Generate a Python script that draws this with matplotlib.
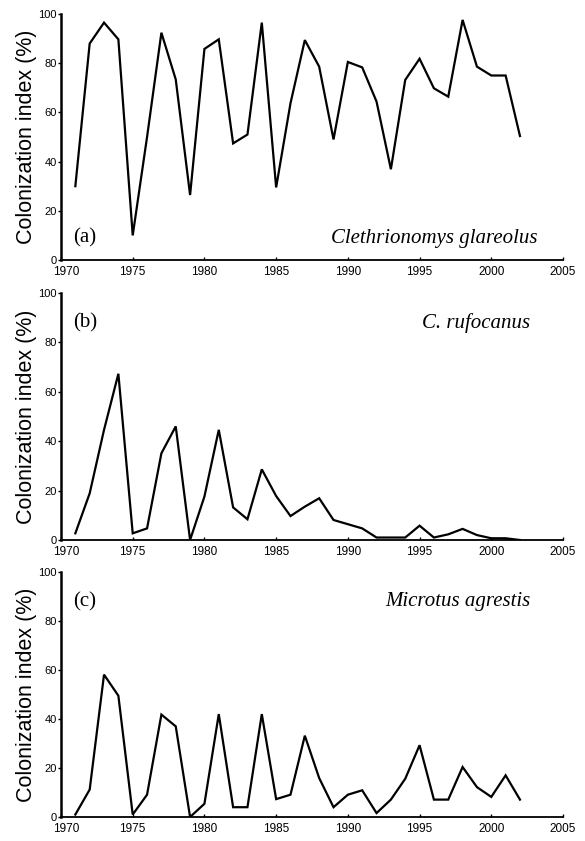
import matplotlib
matplotlib.use("Agg")
import matplotlib.pyplot as plt
import matplotlib.transforms as mtransforms

years = list(range(1971, 2003))

# colonization index (%) per species
glareolus = [30, 88, 96.5, 89.7, 10, 50, 92.4, 73.4, 26.4, 85.8, 89.7, 47.4,
             51, 96.5, 29.5, 63.7, 89.4, 78.6, 49, 80.5, 78.3, 64.4, 36.9, 73.2,
             81.8, 69.8, 66.4, 97.6, 78.6, 75, 75, 50.4]
rufocanus = [2.7, 18.9, 44.6, 67.3, 2.7, 4.7, 35.1, 46, 0, 17.6, 44.6, 13.2,
             8.4, 28.6, 17.8, 9.7, 13.5, 16.9, 8.1, 6.4, 4.7, 1, 1, 1,
             5.8, 1, 2.3, 4.5, 2, 0.7, 0.7, 0]
agrestis = [1, 11.2, 58.1, 49.5, 1, 9.1, 41.8, 37, 0, 5.4, 42, 4,
            4, 42, 7.3, 9.1, 33.2, 15.9, 4, 9.1, 10.9, 1.6, 7.1, 15.6,
            29.3, 7.1, 7.1, 20.4, 12.2, 8.2, 17, 7.1]

series = [glareolus, rufocanus, agrestis]
letters = ["(a)", "(b)", "(c)"]
species = ["Clethrionomys glareolus", "C. rufocanus", "Microtus agrestis"]
xticks = [1970, 1975, 1980, 1985, 1990, 1995, 2000, 2005]
yticks = [0, 20, 40, 60, 80, 100]

fig = plt.figure(figsize=(5.85, 8.41), dpi=100)
W, H = 585.0, 841.0
# (top px, bottom px) of the 0-100 range for each panel
rows = [(14, 260), (293, 540), (572, 817)]
shift = mtransforms.ScaledTranslation(5 / 100, 0, fig.dpi_scale_trans)

for i, (top, bot) in enumerate(rows):
    ax = fig.add_axes([61 / W, 1 - bot / H, 502 / W, (bot - top) / H])
    ax.plot(years, series[i], color="black", lw=1.6, solid_joinstyle="miter")
    ax.set_xlim(1970, 2005)
    ax.set_ylim(0, 100)
    ax.set_xticks(xticks)
    ax.set_yticks(yticks)
    for s in ["top", "right"]:
        ax.spines[s].set_visible(False)
    ax.spines["left"].set_linewidth(1.8)
    ax.spines["bottom"].set_linewidth(1.3)
    ax.tick_params(axis="x", direction="in", length=2, width=1, pad=4,
                   labelsize=8.5)
    ax.tick_params(axis="y", direction="out", length=2, width=1, pad=1,
                   labelsize=8)
    for lab in ax.get_xticklabels() + ax.get_yticklabels():
        lab.set_fontfamily("Liberation Sans")
    first = ax.get_xticklabels()[0]
    first.set_transform(first.get_transform() + shift)
    ax.set_ylabel("Colonization index (%)", fontsize=15.5,
                  fontfamily="Liberation Sans", labelpad=1)
    if i == 0:
        ax.text(0.025, 0.07, letters[i], transform=ax.transAxes,
                fontsize=15, fontfamily="Liberation Serif")
        ax.text(0.95, 0.07, species[i], transform=ax.transAxes, ha="right",
                fontsize=15, fontfamily="Liberation Serif", style="italic")
    else:
        ax.text(0.025, 0.86, letters[i], transform=ax.transAxes,
                fontsize=15, fontfamily="Liberation Serif")
        ax.text(0.935, 0.86, species[i], transform=ax.transAxes, ha="right",
                fontsize=15, fontfamily="Liberation Serif", style="italic")

fig.savefig("out.png", dpi=100)
